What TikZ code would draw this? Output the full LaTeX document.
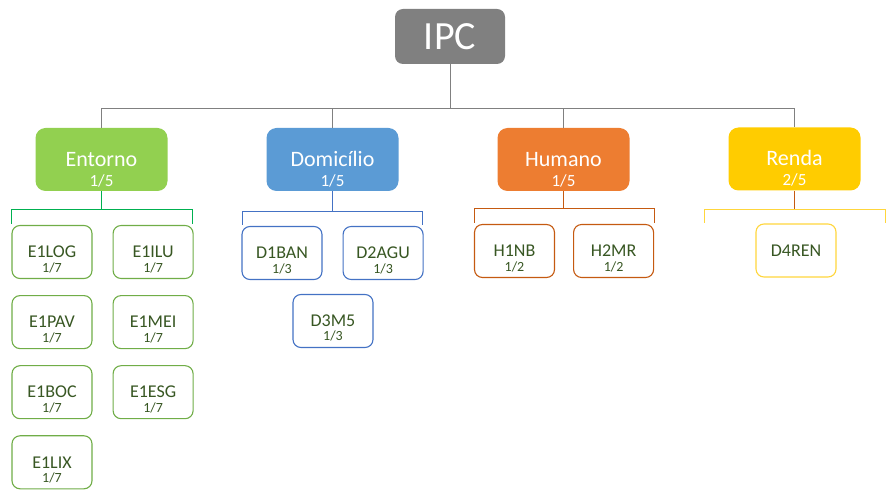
\documentclass[tikz,border=0pt]{standalone}
\usepackage{fontspec}
\setmainfont{Carlito}
\usetikzlibrary{positioning,calc}
\definecolor{IpcGray}{RGB}{128,128,128}
\definecolor{EntGreen}{RGB}{146,208,80}
\definecolor{EntDark}{RGB}{112,173,71}
\definecolor{EntBrk}{RGB}{0,176,80}
\definecolor{DomBlue}{RGB}{91,155,213}
\definecolor{DomDark}{RGB}{68,114,196}
\definecolor{HumOrange}{RGB}{237,125,49}
\definecolor{HumDark}{RGB}{197,90,17}
\definecolor{RenGold}{RGB}{255,204,0}
\definecolor{RenLight}{RGB}{255,214,60}
\definecolor{LeafText}{RGB}{56,87,35}
\tikzset{
	rootbox/.style={rounded corners=8pt,fill=IpcGray,text=white,minimum width=110pt,
		minimum height=55pt,inner sep=0pt,font=\fontsize{40}{44}\selectfont},
	catbox/.style={rounded corners=10pt,fill=#1,text=white,minimum width=132pt,
		minimum height=63pt,inner sep=0pt,text height=14pt,text depth=0pt,
		font=\fontsize{22}{24}\selectfont},
	leaf/.style={rounded corners=8pt,draw=#1,line width=1.1pt,fill=white,text=LeafText,
		minimum width=80pt,minimum height=53pt,inner sep=0pt,text height=11.5pt,
		text depth=0pt,font=\fontsize{18}{20}\selectfont},
	catfrac/.style={text=white,font=\fontsize{17}{18}\selectfont,yshift=-21pt},
	leaffrac/.style={text=LeafText,font=\fontsize{14}{16}\selectfont,yshift=-16pt},
	link/.style={draw=IpcGray,line width=1pt},
	brk/.style={draw=#1,line width=1pt},
}
\begin{document}
\begin{tikzpicture}[x=1pt,y=-1pt,node distance=16pt and 20pt]
	\useasboundingbox (0,0) rectangle (887,494);
	% root and categories
	\node[rootbox] (IPC) at (450,36.5) {IPC};
	\node[catbox=EntGreen,label={[catfrac]center:1/5}] (Entorno) at (101.5,159.5) {Entorno};
	\node[catbox=DomBlue,label={[catfrac]center:1/5}] (Domicilio) at (332.5,159.5) {Domicílio};
	\node[catbox=HumOrange,label={[catfrac]center:1/5}] (Humano) at (563.5,159.5) {Humano};
	\node[catbox=RenGold,label={[catfrac]center:2/5}] (Renda) at (794.5,159) {Renda};
	\coordinate (bus) at (450,108.5);
	\draw[link] (IPC.south) -- (bus);
	\draw[link] (Entorno.north) -- (Entorno.north |- bus) -- (Renda.north |- bus) -- (Renda.north);
	\draw[link] (Domicilio.north) -- (Domicilio.north |- bus);
	\draw[link] (Humano.north) -- (Humano.north |- bus);
	% Entorno
	\node[leaf=EntDark,label={[leaffrac]center:1/7}] (E1LOG) at (52,252) {E1LOG};
	\node[leaf=EntDark,label={[leaffrac]center:1/7},right=of E1LOG] (E1ILU) {E1ILU};
	\node[leaf=EntDark,label={[leaffrac]center:1/7},below=of E1LOG] (E1PAV) {E1PAV};
	\node[leaf=EntDark,label={[leaffrac]center:1/7},right=of E1PAV] (E1MEI) {E1MEI};
	\node[leaf=EntDark,label={[leaffrac]center:1/7},below=of E1PAV] (E1BOC) {E1BOC};
	\node[leaf=EntDark,label={[leaffrac]center:1/7},right=of E1BOC] (E1ESG) {E1ESG};
	\node[leaf=EntDark,label={[leaffrac]center:1/7},below=of E1BOC] (E1LIX) {E1LIX};
	\coordinate (entA) at (11.5,210);
	\coordinate (entB) at (192.5,210);
	\draw[brk=EntBrk] (Entorno.south) -- (Entorno.south |- entA);
	\draw[brk=EntBrk] (entA) ++(0,14) -- (entA) -- (entB) -- ++(0,14);
	% Domicilio
	\node[leaf=DomDark,label={[leaffrac]center:1/3}] (D1BAN) at (282,253) {D1BAN};
	\node[leaf=DomDark,label={[leaffrac]center:1/3},right=of D1BAN] (D2AGU) {D2AGU};
	\node[leaf=DomDark,label={[leaffrac,yshift=1.5pt]center:1/3}] (D3M5) at (333,321) {D3M5};
	\coordinate (domA) at (242,212);
	\coordinate (domB) at (422,212);
	\draw[brk=DomDark] (Domicilio.south) -- (Domicilio.south |- domA);
	\draw[brk=DomDark] (domA) ++(0,13) -- (domA) -- (domB) -- ++(0,13);
	% Humano
	\node[leaf=HumDark,label={[leaffrac]center:1/2}] (H1NB) at (514.5,251) {H1NB};
	\node[leaf=HumDark,label={[leaffrac]center:1/2},right=18pt of H1NB] (H2MR) {H2MR};
	\coordinate (humA) at (474,209);
	\coordinate (humB) at (654,209);
	\draw[brk=HumDark] (Humano.south) -- (Humano.south |- humA);
	\draw[brk=HumDark] (humA) ++(0,14) -- (humA) -- (humB) -- ++(0,14);
	% Renda
	\node[leaf=RenLight] (D4REN) at (796,250.5) {D4REN};
	\coordinate (renA) at (704.5,210);
	\coordinate (renB) at (885,210);
	\draw[brk=HumDark] (Renda.south) -- (Renda.south |- renA);
	\draw[brk=RenLight] (renA) ++(0,13) -- (renA) -- (renB) -- ++(0,13);
\end{tikzpicture}
\end{document}
